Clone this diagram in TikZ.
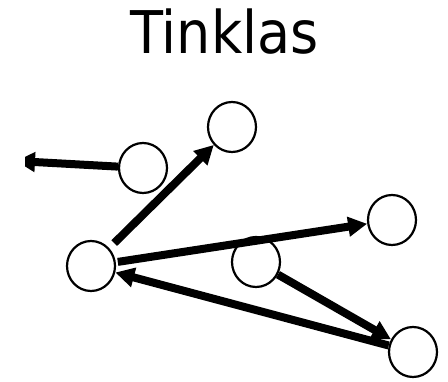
\documentclass[tikz,border=0pt]{standalone}
\usepackage{fontspec}
\setmainfont{DejaVu Sans}
\usetikzlibrary{arrows.meta,shapes.geometric}
\begin{document}
\begin{tikzpicture}[x=1pt,y=-1pt,
  vert/.style={ellipse,draw=black,line width=2.2pt,minimum width=48pt,minimum height=50pt,inner sep=0pt},
  link/.style={line width=8pt,-{Triangle[length=19pt,width=19pt]}}]
\useasboundingbox (0,0) rectangle (448,382);
\node[font=\fontsize{54}{60}\selectfont,anchor=base,yscale=1.09,transform shape,inner sep=0pt] (title) at (224.5,53.3) {Tinklas};
\node[vert] (A) at (143,168) {};
\node[vert] (B) at (232,127) {};
\node[vert] (C) at (91,266) {};
\node[vert] (D) at (392,220) {};
\node[vert] (E) at (256,262) {};
\node[vert] (F) at (413,352) {};
\coordinate (out) at (16,161);
\begin{scope}
\clip (25,0) rectangle (448,382);
\draw[link] (A) -- (out);
\end{scope}
\draw[link,shorten <=7pt] (C) -- (B);
\draw[link,shorten <=2pt] (C) -- (D);
\draw[link] (E) -- (F);
\draw[link] (F) -- (C);
\end{tikzpicture}
\end{document}
